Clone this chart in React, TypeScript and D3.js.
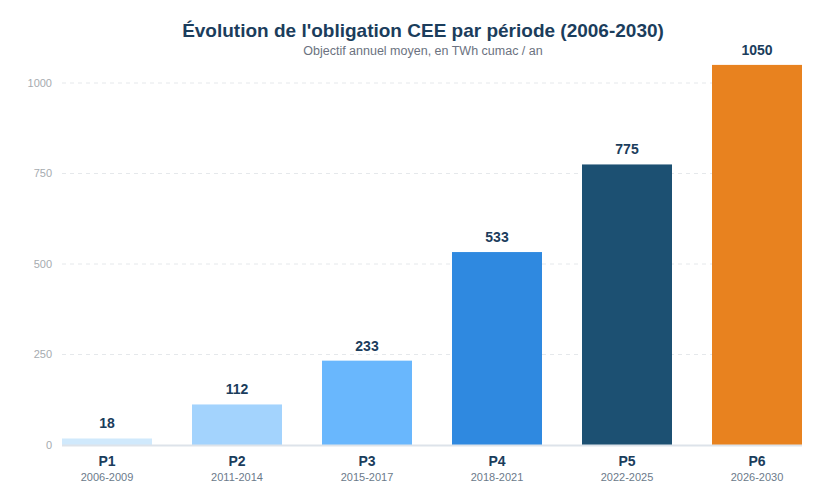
import React from 'react';
import * as d3 from 'd3';

const periods = ['P1', 'P2', 'P3', 'P4', 'P5', 'P6'];
const years = ['2006-2009', '2011-2014', '2015-2017', '2018-2021', '2022-2025', '2026-2030'];
const values = [18, 112, 233, 533, 775, 1050];
const barColors = ['#d0e9fc', '#a3d3fd', '#69b7fd', '#2f89e0', '#1c5072', '#e8821f'];
const yTicks = [0, 250, 500, 750, 1000];

const width = 833;
const height = 496;
const font = 'Liberation Sans, Arial, sans-serif';
const navy = '#1b3d5c';

const App: React.FC = () => {
  const x = d3.scaleBand<string>()
    .domain(periods)
    .range([62, 802])
    .paddingInner(40 / 130)
    .paddingOuter(0);

  const y = d3.scaleLinear()
    .domain([0, 1000])
    .range([445, 83]);

  return (
    <svg width={width} height={height} style={{ position: 'absolute', left: 0, top: 0, fontFamily: font }}>
      <rect width={width} height={height} fill="#ffffff" />

      {/* Title */}
      <text x={423} y={37} textAnchor="middle" fontSize={19} fontWeight="bold" fill={navy}>
        Évolution de l'obligation CEE par période (2006-2030)
      </text>
      <text x={423} y={55} textAnchor="middle" fontSize={12.5} fill="#6b7280">
        Objectif annuel moyen, en TWh cumac / an
      </text>

      {/* Grid + y ticks */}
      {yTicks.map(t => (
        <g key={t}>
          {t > 0 && (
            <line x1={62} x2={802} y1={y(t)} y2={y(t)} stroke="#e5e8eb" strokeWidth={1} strokeDasharray="4,4" />
          )}
          <text x={52} y={y(t)} dy="0.35em" textAnchor="end" fontSize={11} fill="#a6abb0">
            {t}
          </text>
        </g>
      ))}

      {/* Bars */}
      {periods.map((p, i) => (
        <g key={p}>
          <rect
            x={x(p)}
            y={y(values[i])}
            width={x.bandwidth()}
            height={y(0) - y(values[i])}
            fill={barColors[i]}
          />
          <text
            x={(x(p) as number) + x.bandwidth() / 2}
            y={y(values[i]) - 10}
            textAnchor="middle"
            fontSize={14}
            fontWeight="bold"
            fill={navy}
          >
            {values[i]}
          </text>
          <text
            x={(x(p) as number) + x.bandwidth() / 2}
            y={466}
            textAnchor="middle"
            fontSize={14}
            fontWeight="bold"
            fill={navy}
          >
            {p}
          </text>
          <text
            x={(x(p) as number) + x.bandwidth() / 2}
            y={481}
            textAnchor="middle"
            fontSize={11}
            fill="#6b7a8a"
          >
            {years[i]}
          </text>
        </g>
      ))}

      {/* Baseline */}
      <line x1={62} x2={802} y1={445.5} y2={445.5} stroke="#dde3ea" strokeWidth={2} />
    </svg>
  );
};

export default App;
